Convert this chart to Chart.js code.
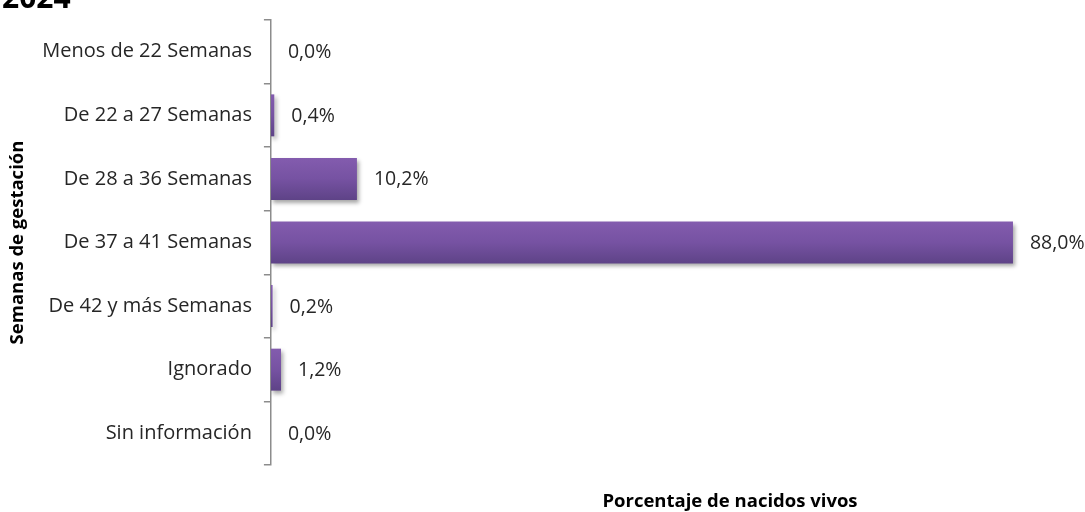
<!DOCTYPE html>
<html>
<head>
<meta charset="utf-8">
<script src="https://cdn.jsdelivr.net/npm/chart.js@4"></script>
<style>
  html, body { margin: 0; padding: 0; background: #fff; overflow: hidden; }
  #wrap { position: relative; width: 1085px; height: 512px; overflow: hidden; }
  #gestChart { display: block; margin-top: -4px; }
  #year { position: absolute; left: 2px; top: -24px; font: bold 30px "Open Sans", sans-serif; color: #000; }
</style>
</head>
<body>
<div id="wrap">
  <canvas id="gestChart" width="1085" height="516"></canvas>
  <div id="year">2024</div>
</div>
<script>
// Nacidos vivos por semanas de gestación
const categories = ['Menos de 22 Semanas', 'De 22 a 27 Semanas', 'De 28 a 36 Semanas', 'De 37 a 41 Semanas', 'De 42 y más Semanas', 'Ignorado', 'Sin información'];
const porcentajes = [0.0, 0.4, 10.2, 88.0, 0.2, 1.2, 0.0];
const yTitle = 'Semanas de gestación';
const xTitle = 'Porcentaje de nacidos vivos';

const fontFamily = '"Open Sans", "Noto Sans", sans-serif';

function fmt(v) {
    return v.toFixed(1).replace('.', ',') + '%';
}

// shadow under the bars
const barShadow = {
    id: 'barShadow',
    beforeDatasetDraw(chart) {
        const ctx = chart.ctx;
        ctx.save();
        ctx.shadowColor = 'rgba(0,0,0,0.35)';
        ctx.shadowBlur = 4;
        ctx.shadowOffsetX = 2;
        ctx.shadowOffsetY = 3;
    },
    afterDatasetDraw(chart) {
        chart.ctx.restore();
    }
};

// value labels at the end of each bar
const valueLabels = {
    id: 'valueLabels',
    afterDatasetsDraw(chart) {
        const ctx = chart.ctx;
        const meta = chart.getDatasetMeta(0);
        ctx.save();
        ctx.font = '19.5px ' + fontFamily;
        ctx.fillStyle = '#262626';
        ctx.textBaseline = 'middle';
        meta.data.forEach((bar, i) => {
            ctx.fillText(fmt(porcentajes[i]), bar.x + 17, bar.y + 1);
        });
        ctx.restore();
    }
};

// x axis title, placed like the original
const xAxisTitle = {
    id: 'xAxisTitle',
    afterDraw(chart) {
        const ctx = chart.ctx;
        ctx.save();
        ctx.font = 'bold 18.5px ' + fontFamily;
        ctx.fillStyle = '#000';
        ctx.textAlign = 'center';
        ctx.textBaseline = 'middle';
        ctx.fillText(xTitle, 730, 506);
        ctx.restore();
    }
};

function barGradient(context) {
    const chart = context.chart;
    const yScale = chart.scales.y;
    if (!chart.chartArea || !yScale) return '#7452a0';
    const yc = yScale.getPixelForValue(context.dataIndex);
    const half = 21;
    const g = chart.ctx.createLinearGradient(0, yc - half, 0, yc + half);
    g.addColorStop(0, '#835cae');
    g.addColorStop(0.5, '#7652a2');
    g.addColorStop(1, '#5e4387');
    return g;
}

const gestChart = document.getElementById('gestChart').getContext('2d');
new Chart(gestChart, {
    type: 'bar',
    data: {
        labels: categories,
        datasets: [{
            data: porcentajes,
            backgroundColor: barGradient,
            borderWidth: 0,
            barPercentage: 0.66,
            categoryPercentage: 1.0
        }]
    },
    options: {
        indexAxis: 'y',
        responsive: false,
        animation: false,
        layout: {
            padding: { top: 17, bottom: 47, left: 2, right: 13 }
        },
        plugins: {
            legend: { display: false },
            tooltip: { enabled: false }
        },
        scales: {
            x: {
                display: false,
                min: 0,
                max: 95
            },
            y: {
                grid: {
                    drawOnChartArea: false,
                    drawTicks: true,
                    tickLength: 7,
                    color: '#8c8c8c',
                    lineWidth: 1.5
                },
                border: {
                    display: true,
                    color: '#8c8c8c',
                    width: 1.5
                },
                ticks: {
                    color: '#262626',
                    padding: 12,
                    font: { family: fontFamily, size: 20 }
                },
                title: {
                    display: true,
                    text: yTitle,
                    color: '#000',
                    padding: { top: 5, bottom: 1 },
                    font: { family: fontFamily, size: 18.5, weight: 'bold' }
                }
            }
        }
    },
    plugins: [barShadow, valueLabels, xAxisTitle]
});
</script>
</body>
</html>
